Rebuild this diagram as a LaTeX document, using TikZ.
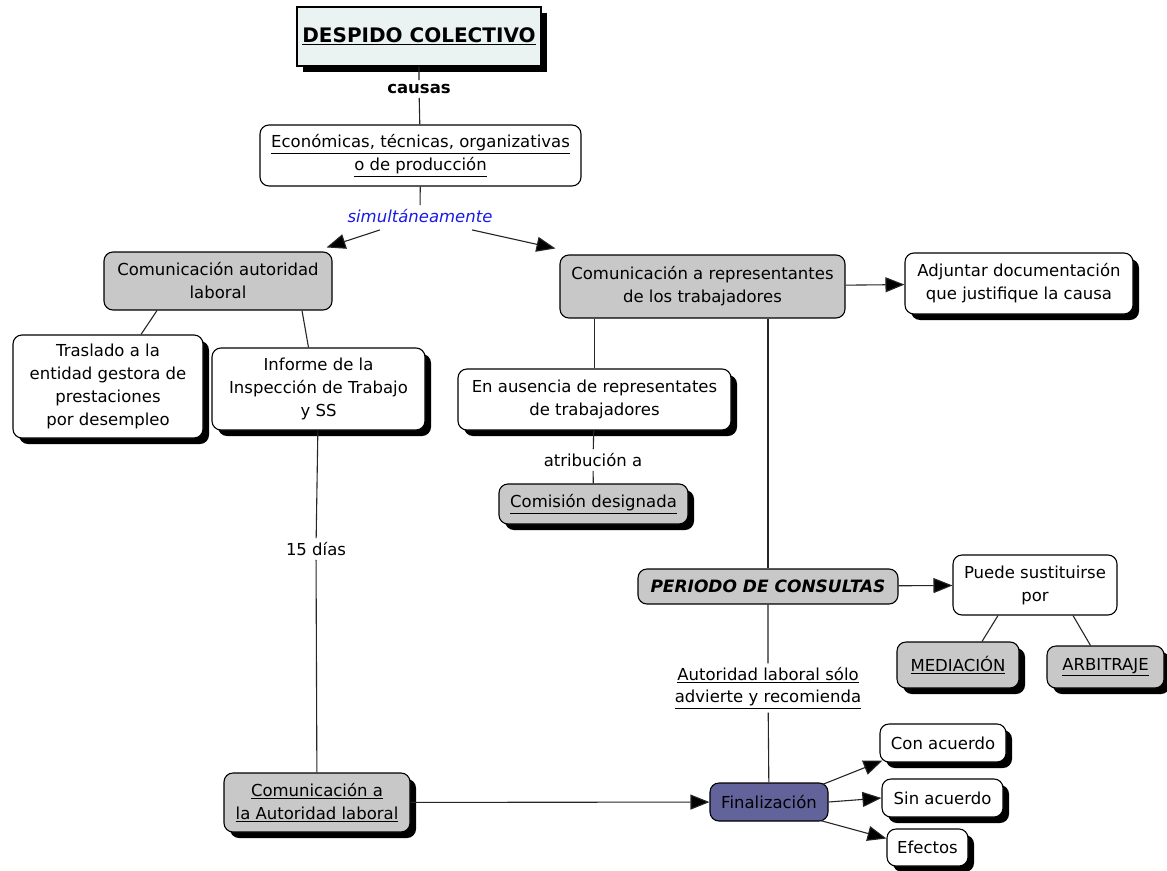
\documentclass[tikz,border=0pt]{standalone}
\usepackage{fontspec}
\setmainfont{DejaVu Sans}
\usetikzlibrary{shadows,arrows.meta}
\definecolor{boxgray}{HTML}{C8C8C8}
\definecolor{titlefill}{HTML}{EAF2F2}
\definecolor{finfill}{HTML}{62639B}
\definecolor{simblue}{HTML}{1A1AE6}
\tikzset{
  base/.style={draw=black, line width=1.1pt, rounded corners=9pt, align=center, inner sep=0pt,
    font=\fontsize{16.5}{23}\selectfont, fill=white},
  shad/.style={drop shadow={shadow xshift=6pt, shadow yshift=-6pt, opacity=1, fill=black}},
  graybox/.style={base, fill=boxgray},
  lbl/.style={inner sep=4pt, align=center, font=\fontsize{16.5}{22}\selectfont},
  conn/.style={draw=black!85, line width=1.1pt},
  arr/.style={conn, -{Triangle[length=19pt,width=15pt,fill=black]}},
}
\begin{document}
\begin{tikzpicture}[x=1pt,y=-1pt]
\useasboundingbox[fill=white] (0,0) rectangle (1167,870);

% nodes
\node[base, shad, rounded corners=0pt, fill=titlefill, minimum width=244pt, minimum height=59pt,
  font=\fontsize{20}{24}\bfseries] (title) at (419,36.5) {\underline{DESPIDO COLECTIVO}};
\node[lbl, font=\fontsize{16.5}{22}\bfseries] (causas) at (419,89) {causas};
\node[base, minimum width=321pt, minimum height=61pt] (econ) at (420.5,155.5)
  {\underline{Económicas, técnicas, organizativas}\\\underline{o de producción}};
\node[lbl, text=simblue, font=\fontsize{16.5}{22}\itshape] (simult) at (420,216) {simultáneamente};

\node[graybox, minimum width=228pt, minimum height=58pt] (comaut) at (218,281)
  {Comunicación autoridad\\laboral};
\node[base, shad, minimum width=190pt, minimum height=103pt] (traslado) at (108,386.5)
  {Traslado a la\\entidad gestora de\\prestaciones\\por desempleo};
\node[base, shad, minimum width=213pt, minimum height=82pt] (informe) at (318.5,389)
  {Informe de la\\Inspección de Trabajo\\y SS};
\node[lbl] (dias) at (316,549) {15 días};
\node[graybox, shad, minimum width=186pt, minimum height=59pt] (comautlab) at (317,802.5)
  {\underline{Comunicación a}\\\underline{la Autoridad laboral}};

\node[graybox, minimum width=285pt, minimum height=63pt] (comrep) at (702.5,286.5)
  {Comunicación a representantes\\de los trabajadores};
\node[base, shad, minimum width=228pt, minimum height=61pt] (adjuntar) at (1019,283.5)
  {Adjuntar documentación\\que justifique la causa};
\node[base, shad, minimum width=273pt, minimum height=61pt] (ausencia) at (594.5,399.5)
  {En ausencia de representates\\de trabajadores};
\node[lbl] (atrib) at (593,460) {atribución a};
\node[graybox, shad, minimum width=189pt, minimum height=40pt] (comision) at (593.5,504)
  {\underline{Comisión designada}};

\node[graybox, minimum width=260pt, minimum height=35pt, font=\fontsize{17}{22}\bfseries\itshape]
  (periodo) at (768,586.5) {PERIODO DE CONSULTAS};
\node[base, minimum width=164pt, minimum height=60pt] (puede) at (1035,585)
  {Puede sustituirse\\por};
\node[graybox, shad, minimum width=122pt, minimum height=46pt] (mediacion) at (958,665)
  {\underline{MEDIACIÓN}};
\node[graybox, shad, minimum width=117pt, minimum height=42pt] (arbitraje) at (1105.5,667)
  {\underline{ARBITRAJE}};
\node[lbl] (autlab) at (768,688)
  {\underline{Autoridad laboral sólo}\\\underline{advierte y recomienda}};

\node[base, fill=finfill, minimum width=118pt, minimum height=38pt] (final) at (769,802) {Finalización};
\node[base, shad, minimum width=126pt, minimum height=38pt] (con) at (943,743) {Con acuerdo};
\node[base, shad, minimum width=121pt, minimum height=38pt] (sin) at (942.5,798) {Sin acuerdo};
\node[base, shad, minimum width=81pt, minimum height=37pt] (efectos) at (927.5,847.5) {Efectos};

% connectors
\draw[conn] (title) -- (causas) -- (econ);
\draw[conn] (econ) -- (simult);
\draw[arr] ([xshift=-40pt,yshift=-3pt]simult.south) -- ([xshift=-6pt,yshift=4pt]comaut.north east);
\draw[arr] ([xshift=52pt,yshift=-3pt]simult.south) -- ([xshift=-4pt,yshift=6pt]comrep.north west);

\draw[conn] ([xshift=-61pt]comaut.south) -- ([xshift=33pt]traslado.north);
\draw[conn] ([xshift=84pt]comaut.south) -- ([xshift=-10pt]informe.north);
\draw[conn] (informe) -- (dias) -- (comautlab);
\draw[arr] (comautlab) -- (final);

\draw[arr] (comrep) -- (adjuntar);
\draw[conn] (ausencia.north |- comrep.south) -- (ausencia.north);
\draw[conn] (ausencia) -- (atrib) -- (comision);
\draw[conn] (periodo.north |- comrep.south) -- (periodo.north);
\draw[arr] (periodo) -- (puede);
\draw[conn] ([xshift=-37pt]puede.south) -- ([xshift=24pt]mediacion.north);
\draw[conn] ([xshift=38pt]puede.south) -- ([xshift=-15pt]arbitraje.north);
\draw[conn] (periodo) -- (autlab) -- (final);

\draw[arr] ([xshift=-6pt,yshift=-2pt]final.north east) -- ([xshift=3pt,yshift=2pt]con.south west);
\draw[arr] (final.east) -- (sin.west);
\draw[arr] ([xshift=-8pt,yshift=1pt]final.south east) -- ([yshift=9pt]efectos.west);
\end{tikzpicture}
\end{document}
